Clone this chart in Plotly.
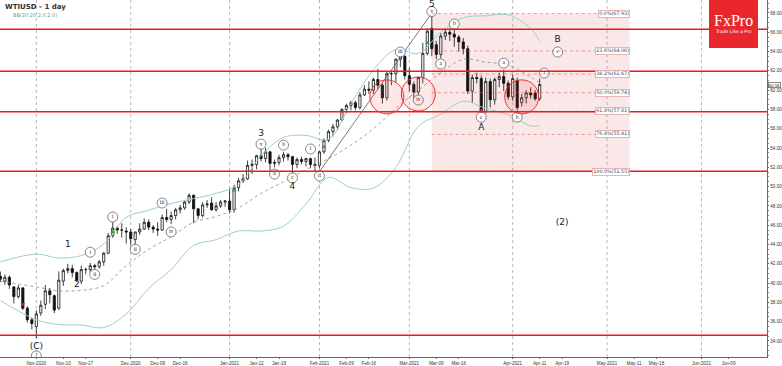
import plotly.graph_objects as go

# ---------------- data ----------------
dates = [
    "2020-10-21", "2020-10-22", "2020-10-23", "2020-10-26", "2020-10-27", "2020-10-28", "2020-10-29", "2020-10-30",
    "2020-11-02", "2020-11-03", "2020-11-04", "2020-11-05", "2020-11-06", "2020-11-09", "2020-11-10", "2020-11-11",
    "2020-11-12", "2020-11-13", "2020-11-16", "2020-11-17", "2020-11-18", "2020-11-19", "2020-11-20", "2020-11-23",
    "2020-11-24", "2020-11-25", "2020-11-26", "2020-11-27", "2020-11-30",
    "2020-12-01", "2020-12-02", "2020-12-03", "2020-12-04", "2020-12-07", "2020-12-08", "2020-12-09", "2020-12-10",
    "2020-12-11", "2020-12-14", "2020-12-15", "2020-12-16", "2020-12-17", "2020-12-18", "2020-12-21", "2020-12-22",
    "2020-12-23", "2020-12-24", "2020-12-28", "2020-12-29", "2020-12-30", "2020-12-31",
    "2021-01-04", "2021-01-05", "2021-01-06", "2021-01-07", "2021-01-08", "2021-01-11", "2021-01-12", "2021-01-13",
    "2021-01-14", "2021-01-15", "2021-01-18", "2021-01-19", "2021-01-20", "2021-01-21", "2021-01-22", "2021-01-25",
    "2021-01-26", "2021-01-27", "2021-01-28", "2021-01-29",
    "2021-02-01", "2021-02-02", "2021-02-03", "2021-02-04", "2021-02-05", "2021-02-08", "2021-02-09", "2021-02-10",
    "2021-02-11", "2021-02-12", "2021-02-15", "2021-02-16", "2021-02-17", "2021-02-18", "2021-02-19", "2021-02-22",
    "2021-02-23", "2021-02-24", "2021-02-25", "2021-02-26",
    "2021-03-01", "2021-03-02", "2021-03-03", "2021-03-04", "2021-03-05", "2021-03-08", "2021-03-09", "2021-03-10",
    "2021-03-11", "2021-03-12", "2021-03-15", "2021-03-16", "2021-03-17", "2021-03-18", "2021-03-19", "2021-03-22",
    "2021-03-23", "2021-03-24", "2021-03-25", "2021-03-26", "2021-03-29", "2021-03-30", "2021-03-31",
    "2021-04-01", "2021-04-05", "2021-04-06", "2021-04-07", "2021-04-08", "2021-04-09", "2021-04-12",
]
opens = [
    40.7, 40.2, 40.6, 39.6, 38.6, 39.5, 37.4, 36.2,
    35.5, 36.9, 37.8, 39.2, 38.7, 37.4, 40.2, 41.3,
    41.5, 41.1, 40.2, 41.4, 41.4, 41.8, 41.7, 42.2,
    43.1, 44.9, 45.7, 45.5, 45.4,
    45.3, 44.5, 45.3, 45.6, 46.3, 45.8, 45.6, 45.5,
    46.8, 46.6, 47.0, 47.6, 47.8, 48.4, 49.1, 47.7,
    47.0, 48.1, 48.3, 47.6, 48.0, 48.4,
    48.5, 47.6, 49.9, 50.6, 50.8, 52.2, 52.3, 53.2,
    52.9, 53.6, 52.4, 52.5, 53.0, 53.3, 53.1, 52.3,
    52.8, 52.6, 52.9, 52.3,
    52.2, 53.6, 54.8, 55.7, 56.2, 56.9, 58.0, 58.4,
    58.7, 58.2, 59.5, 60.1, 60.0, 61.1, 60.5, 59.2,
    61.7, 61.7, 63.2, 63.5,
    61.5, 60.6, 59.8, 61.3, 63.8, 66.4, 64.7, 63.7,
    65.6, 66.0, 65.8, 65.5, 65.0, 64.3, 59.9, 61.3,
    61.2, 57.8, 60.9, 59.0, 61.1, 61.4, 60.7,
    59.3, 61.0, 58.7, 59.2, 59.7, 59.7, 59.1,
]
highs = [
    41.2, 40.9, 40.8, 39.7, 39.8, 39.6, 37.6, 36.4,
    37.2, 38.2, 39.8, 39.5, 38.8, 41.2, 41.5, 42.0,
    41.9, 41.2, 41.8, 41.6, 42.1, 42.0, 42.4, 43.2,
    45.2, 46.3, 45.9, 46.2, 45.8,
    45.6, 45.3, 46.2, 46.7, 46.6, 46.0, 46.3, 47.1,
    47.7, 47.4, 47.8, 48.1, 48.6, 49.3, 49.2, 47.8,
    48.4, 48.6, 48.9, 48.4, 48.6, 48.6,
    49.8, 50.2, 50.9, 51.3, 52.7, 52.8, 53.3, 53.9,
    54.0, 53.7, 52.8, 53.3, 53.6, 53.5, 53.2, 53.0,
    53.1, 53.0, 53.0, 53.0,
    53.7, 55.0, 55.9, 56.5, 57.0, 58.1, 58.6, 58.9,
    58.9, 59.8, 60.5, 60.9, 61.3, 62.2, 60.7, 61.9,
    62.0, 63.3, 63.8, 63.6,
    62.3, 60.9, 61.4, 64.9, 66.4, 67.93, 65.1, 65.9,
    66.4, 66.4, 66.3, 65.7, 65.4, 64.6, 61.6, 61.8,
    61.5, 61.3, 61.2, 61.3, 61.8, 62.1, 61.0,
    61.6, 61.3, 59.6, 60.0, 60.3, 60.0, 61.2,
]
lows = [
    40.1, 39.8, 39.4, 37.9, 38.4, 37.2, 35.9, 35.2,
    34.3, 36.6, 37.3, 37.9, 36.9, 37.2, 39.7, 41.0,
    40.6, 40.1, 39.9, 40.9, 41.1, 41.0, 41.5, 41.8,
    43.0, 44.7, 45.1, 44.7, 44.1,
    43.9, 43.6, 45.0, 45.5, 45.5, 45.2, 44.9, 45.4,
    46.3, 46.1, 46.6, 47.2, 47.6, 48.2, 46.2, 46.6,
    46.8, 47.8, 47.5, 47.4, 47.8, 47.9,
    47.2, 47.3, 49.5, 50.4, 50.7, 51.3, 51.8, 52.6,
    52.5, 51.7, 52.0, 52.2, 52.6, 52.7, 51.4, 51.9,
    52.3, 52.1, 51.9, 51.55,
    51.9, 53.4, 54.6, 55.2, 55.9, 56.8, 57.6, 57.9,
    57.9, 58.0, 59.4, 59.6, 59.6, 60.1, 58.6, 58.9,
    60.5, 60.8, 62.4, 61.1,
    59.9, 59.1, 59.2, 60.7, 63.6, 63.5, 63.2, 63.3,
    65.2, 65.1, 64.5, 64.0, 63.7, 59.6, 58.7, 60.7,
    57.3, 57.6, 58.2, 58.5, 60.3, 59.9, 59.0,
    58.9, 57.9, 58.3, 58.6, 59.1, 58.9, 58.9,
]
closes = [
    40.4, 40.6, 39.8, 38.6, 39.5, 37.4, 36.2, 35.8,
    36.8, 37.7, 39.2, 38.8, 37.2, 40.3, 41.3, 41.5,
    41.1, 40.3, 41.4, 41.4, 41.8, 41.7, 42.2, 43.1,
    44.9, 45.7, 45.5, 45.5, 45.3,
    44.6, 45.3, 45.6, 46.3, 45.8, 45.6, 45.5, 46.8,
    46.6, 47.0, 47.6, 47.8, 48.4, 49.1, 47.7, 47.0,
    48.1, 48.2, 47.6, 48.0, 48.4, 48.5,
    47.6, 49.9, 50.6, 50.8, 52.2, 52.3, 53.2, 52.9,
    53.6, 52.4, 52.5, 53.0, 53.3, 53.1, 52.3, 52.8,
    52.6, 52.9, 52.3, 52.2,
    53.6, 54.8, 55.7, 56.2, 56.9, 58.0, 58.4, 58.7,
    58.2, 59.5, 60.1, 60.0, 61.1, 60.5, 59.2, 61.7,
    61.7, 63.2, 63.5, 61.5,
    60.6, 59.8, 61.3, 63.8, 66.1, 64.3, 63.7, 65.6,
    66.0, 65.8, 65.5, 65.0, 64.3, 59.9, 61.3, 61.2,
    57.8, 60.9, 59.0, 61.1, 61.4, 60.7, 59.3,
    61.2, 58.2, 59.2, 59.7, 59.5, 59.1, 60.58,
]

# Bollinger band (20, 2)
bb_dates = ["2020-10-21", "2020-11-02", "2020-11-09", "2020-11-16", "2020-11-23", "2020-11-30", "2020-12-07",
            "2020-12-14", "2020-12-21", "2020-12-29", "2021-01-06", "2021-01-13", "2021-01-20", "2021-01-27",
            "2021-02-03", "2021-02-10", "2021-02-17", "2021-02-24", "2021-03-03", "2021-03-10", "2021-03-17",
            "2021-03-24", "2021-03-31", "2021-04-08", "2021-04-12"]
bb_upper = [42.2, 43.0, 42.6, 42.85, 44.05, 46.8, 47.55, 48.25, 48.75, 49.3, 50.2, 53.2, 55.1, 55.3,
            54.9, 58.6, 62.1, 64.2, 63.8, 66.0, 67.5, 67.7, 67.8, 66.4, 65.1]
bb_mid = [40.2, 39.6, 39.2, 39.25, 39.74, 41.8, 43.5, 44.8, 46.3, 46.9, 47.8, 49.3, 50.5, 51.75,
          52.9, 54.3, 56.0, 58.1, 60.0, 61.8, 63.2, 62.9, 62.6, 61.35, 60.74]
bb_lower = [38.2, 36.2, 35.7, 35.65, 35.4, 36.8, 39.45, 41.4, 43.9, 44.5, 45.4, 45.4, 45.9, 48.2,
            50.95, 49.9, 49.85, 52.0, 56.25, 57.5, 58.85, 58.1, 57.46, 56.3, 56.3]

# horizontal support / resistance levels
red_levels = [66.3, 61.95, 57.75, 51.6, 34.6]

# Fibonacci retracement
fib_start, fib_end = "2021-03-08", "2021-05-10"
fib_pcts = ["0.0%", "23.6%", "38.2%", "50.0%", "61.8%", "76.4%", "100.0%"]
fib_prices = [67.93, 64.06, 61.67, 59.74, 57.81, 55.41, 51.55]

# x axis ticks
tick_dates = ["2020-11-02", "2020-11-10", "2020-11-17", "2020-12-01", "2020-12-09", "2020-12-16",
              "2021-01-04", "2021-01-12", "2021-01-19", "2021-02-01", "2021-02-09", "2021-02-16",
              "2021-03-01", "2021-03-09", "2021-03-16", "2021-04-01", "2021-04-12", "2021-04-19",
              "2021-05-03", "2021-05-11", "2021-05-18", "2021-06-01", "2021-06-09"]
tick_text = ["Nov-2020", "Nov-10", "Nov-17", "Dec-2020", "Dec-09", "Dec-16", "Jan-2021", "Jan-12", "Jan-19",
             "Feb-2021", "Feb-09", "Feb-16", "Mar-2021", "Mar-09", "Mar-16", "Apr-2021", "Apr-11", "Apr-19",
             "May-2021", "May-11", "May-18", "Jun-2021", "Jun-09"]
month_dates = ["2020-11-02", "2020-12-01", "2021-01-04", "2021-02-01", "2021-03-01", "2021-04-01",
               "2021-05-03", "2021-06-01"]

# Elliott wave labels
circ_text = ["?", "i", "ii", "i", "ii", "iii", "iv", "v", "a", "b", "c", "i", "ii",
             "iii", "iv", "v", "a", "b", "c", "a", "b", "i", "c"]
circ_dates = ["2020-11-02", "2020-11-18", "2020-11-19", "2020-11-25", "2020-12-02", "2020-12-10", "2020-12-14",
              "2021-01-13", "2021-01-18", "2021-01-20", "2021-01-22", "2021-01-28", "2021-02-01",
              "2021-02-25", "2021-03-03", "2021-03-08", "2021-03-10", "2021-03-15", "2021-03-23",
              "2021-03-30", "2021-04-05", "2021-04-13", "2021-04-16"]
circ_prices = [32.45, 43.2, 40.9, 46.85, 43.5, 48.3, 45.3, 54.4, 51.3, 54.3, 50.9, 53.9, 51.1,
               63.95, 58.97, 68.15, 62.7, 66.85, 57.2, 62.8, 57.2, 61.77, 63.95]
plain_text = ["(C)", "1", "2", "3", "4", "5", "A", "B", "(2)"]
plain_dates = ["2020-11-02", "2020-11-11", "2020-11-13", "2021-01-13", "2021-01-22", "2021-03-08",
               "2021-03-23", "2021-04-16", "2021-04-19"]
plain_prices = [33.38, 43.95, 39.8, 55.45, 49.95, 68.85, 56.07, 65.2, 46.3]

# small signal arrows on candles
up_dates = ["2020-11-25", "2021-01-05", "2021-02-02", "2021-03-05"]
up_prices = [45.3, 49.6, 54.1, 64.9]
down_dates = ["2020-10-28", "2021-03-23"]
down_prices = [37.8, 57.9]

ring_dates = ["2021-02-22", "2021-03-03", "2021-04-06"]
ring_prices = [59.3, 59.6, 59.3]

trend_dates = ["2021-02-01", "2021-03-08"]
trend_prices = [51.55, 68.0]

last_price = 60.58

# ---------------- figure ----------------
fig = go.Figure()

fig.add_trace(go.Candlestick(
    x=dates, open=opens, high=highs, low=lows, close=closes,
    increasing=dict(line=dict(color="#111111", width=0.8), fillcolor="#ffffff"),
    decreasing=dict(line=dict(color="#111111", width=0.8), fillcolor="#111111"),
    whiskerwidth=0, showlegend=False, hoverinfo="skip"))

band_col = "#9ccfcf"
fig.add_trace(go.Scatter(x=bb_dates, y=bb_upper, mode="lines", line=dict(color=band_col, width=1, shape="spline"),
                         showlegend=False, hoverinfo="skip"))
fig.add_trace(go.Scatter(x=bb_dates, y=bb_lower, mode="lines", line=dict(color=band_col, width=1, shape="spline"),
                         showlegend=False, hoverinfo="skip"))
fig.add_trace(go.Scatter(x=bb_dates, y=bb_mid, mode="lines",
                         line=dict(color="#8a8a8a", width=0.8, dash="dot", shape="spline"),
                         showlegend=False, hoverinfo="skip"))

fig.add_trace(go.Scatter(x=trend_dates, y=trend_prices, mode="lines", line=dict(color="#555555", width=0.8),
                         showlegend=False, hoverinfo="skip"))

fig.add_trace(go.Scatter(x=up_dates, y=up_prices, mode="markers",
                         marker=dict(symbol="triangle-up", size=4, color="#22aa22"),
                         showlegend=False, hoverinfo="skip"))
fig.add_trace(go.Scatter(x=down_dates, y=down_prices, mode="markers",
                         marker=dict(symbol="triangle-down", size=4, color="#dd2222"),
                         showlegend=False, hoverinfo="skip"))

fig.add_trace(go.Scatter(x=circ_dates, y=circ_prices, mode="markers+text", text=circ_text,
                         textposition="middle center", textfont=dict(size=5.5, color="#222222", family="Liberation Serif"),
                         marker=dict(size=10, color="white", line=dict(color="#555555", width=0.7)),
                         showlegend=False, hoverinfo="skip"))
fig.add_trace(go.Scatter(x=plain_dates, y=plain_prices, mode="text", text=plain_text,
                         textposition="middle center", textfont=dict(size=9, color="#222222", family="DejaVu Sans"),
                         showlegend=False, hoverinfo="skip", cliponaxis=False))

shapes = []
# fib zone
shapes.append(dict(type="rect", xref="x", yref="y", x0=fib_start, x1=fib_end, y0=fib_prices[-1], y1=fib_prices[0],
                   fillcolor="rgba(226,120,120,0.18)", line=dict(width=0), layer="below"))
for p in fib_prices:
    shapes.append(dict(type="line", xref="x", yref="y", x0=fib_start, x1=fib_end, y0=p, y1=p,
                       line=dict(color="rgba(215,90,90,0.7)", width=0.8, dash="dot")))
# month grid
for d in month_dates:
    shapes.append(dict(type="line", xref="x", yref="paper", x0=d, x1=d, y0=0, y1=1,
                       line=dict(color="#9a9a9a", width=0.7, dash="dot"), layer="below"))
# red levels
for p in red_levels:
    shapes.append(dict(type="line", xref="paper", yref="y", x0=0, x1=1, y0=p, y1=p,
                       line=dict(color="#f01818", width=1.5)))
# red rings
for d, p in zip(ring_dates, ring_prices):
    shapes.append(dict(type="circle", xref="x", yref="y", xsizemode="pixel", ysizemode="pixel",
                       xanchor=d, yanchor=p, x0=-17, x1=17, y0=-17, y1=17,
                       fillcolor="rgba(240,60,60,0.12)", line=dict(color="#f03030", width=1)))
# FxPro logo box
shapes.append(dict(type="rect", xref="paper", yref="paper", x0=709 / 767, x1=758 / 767, y0=1 - 48 / 357, y1=1.0,
                   fillcolor="#e8262b", line=dict(width=0)))

annotations = []
annotations.append(dict(xref="paper", yref="paper", x=0.004, y=0.998, xanchor="left", yanchor="top",
                        text="<b>WTIUSD - 1 day</b>", showarrow=False, font=dict(size=7, color="#333333", family="DejaVu Sans")))
annotations.append(dict(xref="paper", yref="paper", x=0.014, y=0.972, xanchor="left", yanchor="top",
                        text="BB(20,20,2,0,2,0)", showarrow=False, font=dict(size=5, color="#5aa8a8", family="DejaVu Sans")))
annotations.append(dict(xref="paper", yref="paper", x=733.5 / 767, y=1 - 20 / 357, xanchor="center", yanchor="middle",
                        text="FxPro", showarrow=False, font=dict(size=16, color="white", family="Liberation Serif")))
annotations.append(dict(xref="paper", yref="paper", x=733.5 / 767, y=1 - 31 / 357, xanchor="center", yanchor="middle",
                        text="Trade Like a Pro", showarrow=False, font=dict(size=4.5, color="white", family="DejaVu Sans")))
for pc, p in zip(fib_pcts, fib_prices):
    annotations.append(dict(xref="x", yref="y", x=fib_end, y=p, xanchor="right", yanchor="middle",
                            text=f"{pc}({p:.2f})", showarrow=False, bgcolor="white", bordercolor="#e3a3a3",
                            borderwidth=0.8, borderpad=0.5, font=dict(size=4.8, color="#444444", family="DejaVu Sans")))
annotations.append(dict(xref="paper", yref="y", x=1.0, y=last_price, xanchor="left", yanchor="middle", xshift=1,
                        text=f"{last_price:.2f}", showarrow=False, bgcolor="white", bordercolor="#444444",
                        borderwidth=0.6, borderpad=0.1, font=dict(size=4.3, color="#222222", family="Liberation Sans")))

fig.update_layout(
    width=782, height=366,
    margin=dict(l=0, r=15, t=0, b=9, autoexpand=False),
    paper_bgcolor="white", plot_bgcolor="white",
    shapes=shapes, annotations=annotations,
    xaxis=dict(
        type="date", rangeslider=dict(visible=False),
        rangebreaks=[dict(bounds=["sat", "mon"]), dict(values=["2020-12-25", "2021-01-01", "2021-04-02"])],
        range=["2020-10-20 22:00", "2021-06-21 14:00"],
        tickmode="array", tickvals=tick_dates, ticktext=tick_text, tickangle=0, automargin=False,
        ticklabeloverflow="allow", ticklabelstandoff=0,
        tickfont=dict(size=4.6, color="#333333", family="Liberation Sans"),
        ticks="outside", ticklen=1.5, tickcolor="#666666",
        showgrid=False, showline=True, linecolor="#666666", linewidth=0.8, mirror=True, zeroline=False,
    ),
    yaxis=dict(
        side="right", range=[32.34, 69.34], dtick=2, tick0=0, tickformat=".2f", automargin=False,
        ticklabeloverflow="allow", ticklabelstandoff=0,
        tickfont=dict(size=4.6, color="#333333", family="Liberation Sans"),
        ticks="outside", ticklen=1.5, tickcolor="#666666",
        minor=dict(dtick=0.5, ticks="outside", ticklen=1, tickcolor="#888888"),
        showgrid=False, showline=True, linecolor="#666666", linewidth=0.8, zeroline=False,
    ),
)

fig.write_html("out.html", config={"displayModeBar": False},
               post_script="document.body.style.margin='0px';document.body.style.padding='0px';")
